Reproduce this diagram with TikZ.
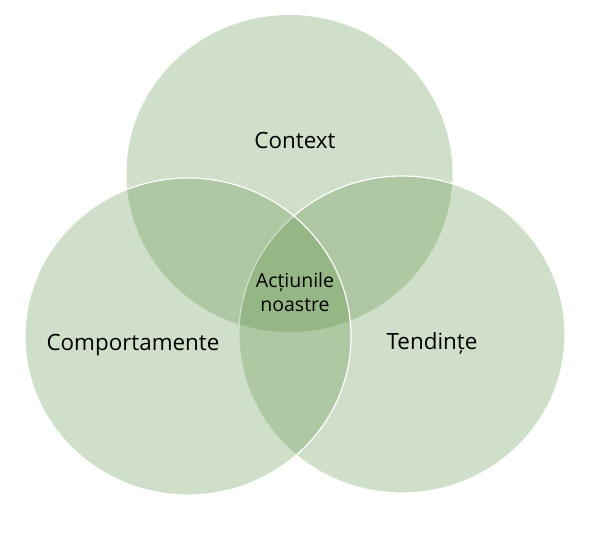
\documentclass[tikz,border=0pt]{standalone}
\usepackage{fontspec}
\setmainfont{Open Sans}
\usepackage{tikz}
\usetikzlibrary{positioning, shapes.geometric}

\definecolor{vennGreen}{RGB}{84,140,60}

\begin{document}
\begin{tikzpicture}[
  x=1pt, y=-1pt,
  every node/.style={font=\fontsize{22.4}{24}\selectfont},
  venn/.style={ellipse, minimum width=326pt, minimum height=317pt,
               inner sep=0pt, fill=vennGreen, fill opacity=0.28},
  rim/.style={draw=white, line width=1.2pt},
  small/.style={font=\fontsize{19.5}{24}\selectfont, align=center},
]
\useasboundingbox (0,0) rectangle (594,542);

% Circles (top, right, left)
\node[venn] (ctx) at (289.5,173.5) {};
\node[venn, rim] (tnd) at (402,334.5) {};
\node[venn, rim] (cmp) at (188,336.5) {};

% Labels
\node (lctx) at (295,140) {Context};
\node (lcmp) at (133,345) {Comportamente};
\node (ltnd) at (432,343) {Tendințe};
\node[small] (lact) at (295,292) {Acțiunile\\noastre};

\end{tikzpicture}
\end{document}
